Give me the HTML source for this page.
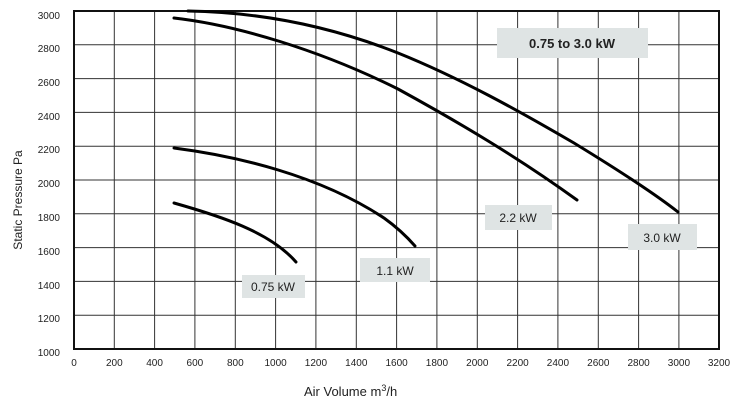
<!DOCTYPE html>
<html><head><style>
body{margin:0;background:#fff}
svg{display:block}
text{font-family:"Liberation Sans",sans-serif;fill:#222}
</style></head><body>
<svg width="741" height="406" viewBox="0 0 741 406">
<g stroke="#333" stroke-width="1">
<line x1="114.3" y1="11" x2="114.3" y2="349"/><line x1="154.6" y1="11" x2="154.6" y2="349"/><line x1="194.9" y1="11" x2="194.9" y2="349"/><line x1="235.3" y1="11" x2="235.3" y2="349"/><line x1="275.6" y1="11" x2="275.6" y2="349"/><line x1="315.9" y1="11" x2="315.9" y2="349"/><line x1="356.3" y1="11" x2="356.3" y2="349"/><line x1="396.6" y1="11" x2="396.6" y2="349"/><line x1="436.9" y1="11" x2="436.9" y2="349"/><line x1="477.3" y1="11" x2="477.3" y2="349"/><line x1="517.6" y1="11" x2="517.6" y2="349"/><line x1="557.9" y1="11" x2="557.9" y2="349"/><line x1="598.3" y1="11" x2="598.3" y2="349"/><line x1="638.6" y1="11" x2="638.6" y2="349"/><line x1="678.9" y1="11" x2="678.9" y2="349"/>
<line x1="74" y1="44.8" x2="719" y2="44.8"/><line x1="74" y1="78.6" x2="719" y2="78.6"/><line x1="74" y1="112.4" x2="719" y2="112.4"/><line x1="74" y1="146.2" x2="719" y2="146.2"/><line x1="74" y1="180" x2="719" y2="180"/><line x1="74" y1="213.8" x2="719" y2="213.8"/><line x1="74" y1="247.6" x2="719" y2="247.6"/><line x1="74" y1="281.4" x2="719" y2="281.4"/><line x1="74" y1="315.2" x2="719" y2="315.2"/>
</g>
<rect x="74" y="11" width="645" height="338" fill="none" stroke="#111" stroke-width="2"/>
<g fill="none" stroke="#000" stroke-width="3" stroke-linecap="round">
<path d="M188,11 C250,12 320,22 398,53 C460,78 519,111 574,143 C610,165 650,190 678,212"/>
<path d="M174,18 C236,25 320,50 398,89 C460,123 519,158 577,200"/>
<path d="M174,148 C236,156 319,175 384,218 C398,228 408,238 415,246"/>
<path d="M174,203 C220,216 270,232 296,262"/>
</g>
<g fill="#dfe4e4">
<rect x="497" y="28" width="151" height="30"/>
<rect x="242" y="275" width="63" height="23"/>
<rect x="360" y="258" width="70" height="24"/>
<rect x="485" y="205" width="67" height="25"/>
<rect x="628" y="224" width="69" height="26"/>
</g>
<g font-size="12">
<text x="572" y="48" text-anchor="middle" font-weight="bold" font-size="13">0.75 to 3.0 kW</text>
<text x="273" y="291" text-anchor="middle">0.75 kW</text>
<text x="395" y="275" text-anchor="middle">1.1 kW</text>
<text x="518" y="222" text-anchor="middle">2.2 kW</text>
<text x="662" y="242" text-anchor="middle">3.0 kW</text>
</g>
<g font-size="10" text-anchor="end">
<text x="60" y="19">3000</text><text x="60" y="52">2800</text><text x="60" y="86">2600</text><text x="60" y="120">2400</text><text x="60" y="153">2200</text><text x="60" y="187">2000</text><text x="60" y="221">1800</text><text x="60" y="255">1600</text><text x="60" y="289">1400</text><text x="60" y="322">1200</text><text x="60" y="356">1000</text>
</g>
<g font-size="10" text-anchor="middle">
<text x="74" y="366">0</text><text x="114.3" y="366">200</text><text x="154.6" y="366">400</text><text x="194.9" y="366">600</text><text x="235.3" y="366">800</text><text x="275.6" y="366">1000</text><text x="315.9" y="366">1200</text><text x="356.3" y="366">1400</text><text x="396.6" y="366">1600</text><text x="436.9" y="366">1800</text><text x="477.3" y="366">2000</text><text x="517.6" y="366">2200</text><text x="557.9" y="366">2400</text><text x="598.3" y="366">2600</text><text x="638.6" y="366">2800</text><text x="678.9" y="366">3000</text><text x="719" y="366">3200</text>
</g>
<text x="304" y="396" font-size="13">Air Volume  m<tspan font-size="9" dy="-5">3</tspan><tspan dy="5">/h</tspan></text>
<text transform="translate(22,200) rotate(-90)" text-anchor="middle" font-size="12">Static Pressure Pa</text>
</svg>
</body></html>
